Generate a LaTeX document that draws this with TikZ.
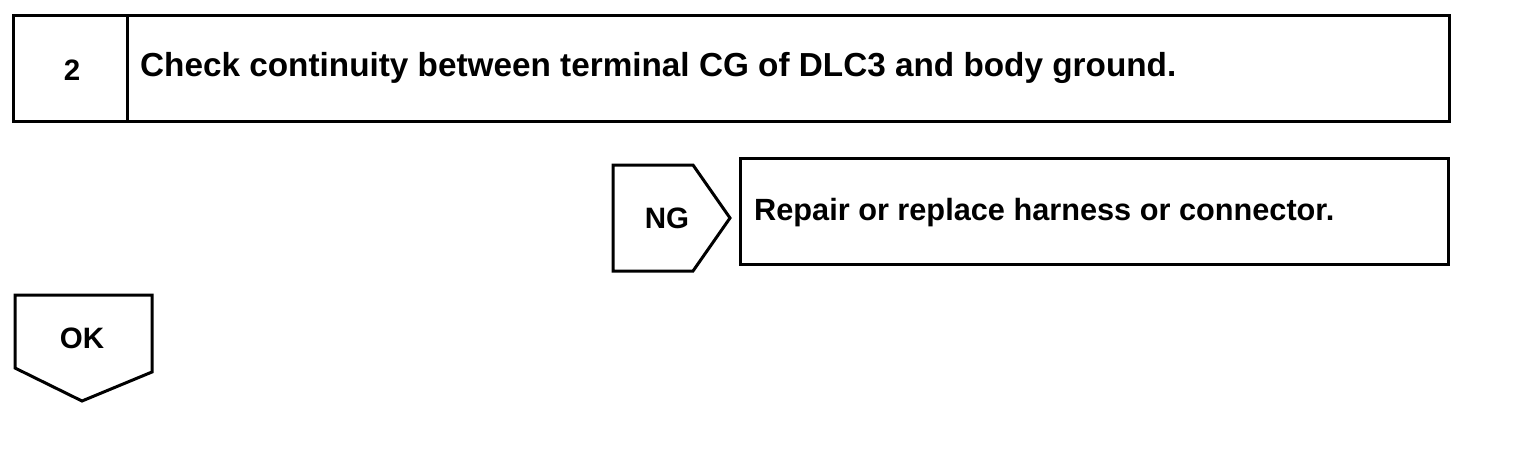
\documentclass[tikz,border=0pt]{standalone}
\usepackage{fontspec}
\setmainfont{Liberation Sans}
\begin{document}
\begin{tikzpicture}[x=1pt,y=-1pt,
  frame/.style={draw,line width=3pt,rectangle,inner sep=0pt},
  lbl/.style={font=\fontsize{29.5}{34}\selectfont\bfseries,inner sep=0pt},
  biglbl/.style={font=\fontsize{33.3}{38}\selectfont\bfseries,inner sep=0pt},
  midlbl/.style={font=\fontsize{30.7}{36}\selectfont\bfseries,inner sep=0pt},
  outline/.style={draw,line width=3pt,line join=miter}]
\useasboundingbox (0,0) rectangle (1536,458);
% top box
\node[frame,minimum width=1436pt,minimum height=106pt] (top) at (731,68) {};
\draw[line width=3pt] (127,15) -- (127,121);
\node[lbl] (num) at (72,70) {2};
\node[biglbl,anchor=west] (check) at (140,68) {Check continuity between terminal CG of DLC3 and body ground.};
% NG pentagon
\draw[outline] (613,165) -- (693,165) -- (730,218) -- (693,271) -- (613,271) -- cycle;
\node[lbl] (ng) at (667,218) {NG};
% repair box
\node[frame,minimum width=708pt,minimum height=106pt] (rep) at (1094,211) {};
\node[midlbl,anchor=west] (repair) at (754,213) {Repair or replace harness or connector.};
% OK pentagon
\draw[outline] (15,295) -- (152,295) -- (152,372) -- (82,401) -- (15,368) -- cycle;
\node[lbl] (ok) at (82,338) {OK};
\end{tikzpicture}
\end{document}
